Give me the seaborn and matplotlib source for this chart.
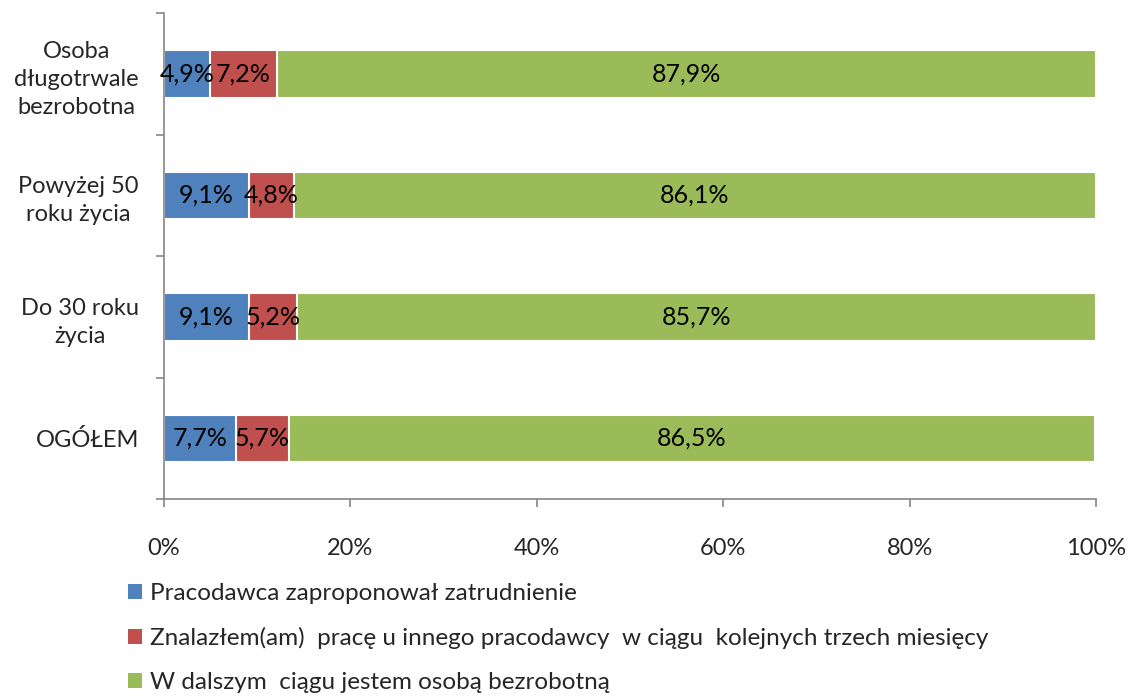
import matplotlib
matplotlib.use("Agg")
import matplotlib.pyplot as plt
from matplotlib.patches import Patch
import seaborn as sns
import pandas as pd

categories = ["Osoba\ndługotrwale\nbezrobotna", "Powyżej 50\nroku życia", "Do 30 roku\nżycia", "OGÓŁEM"]
pracodawca = [4.9, 9.1, 9.1, 7.7]
inny = [7.2, 4.8, 5.2, 5.7]
bezrobotny = [87.9, 86.1, 85.7, 86.5]
series_names = ["Pracodawca zaproponował zatrudnienie",
                "Znalazłem(am)  pracę u innego pracodawcy  w ciągu  kolejnych trzech miesięcy",
                "W dalszym  ciągu jestem osobą bezrobotną"]
colors = ["#4F81BD", "#C0504D", "#9BBB59"]
xticks = [0, 20, 40, 60, 80, 100]

sns.set_style("white")
plt.rcParams["font.family"] = ["Lato", "DejaVu Sans"]
plt.rcParams["font.size"] = 16

df = pd.DataFrame({"cat": categories, "a": pracodawca, "b": inny, "c": bezrobotny})
df["ab"] = df["a"] + df["b"]
df["abc"] = df["ab"] + df["c"]

fig = plt.figure(figsize=(11.31, 6.99), dpi=100)
ax = fig.add_axes([0.145, 0.286, 0.824, 0.695])

# stacked bars drawn as cumulative totals, widest first
for col, color in zip(["abc", "ab", "a"], colors[::-1]):
    sns.barplot(data=df, x=col, y="cat", order=categories, color=color, ax=ax,
                width=0.39, edgecolor="white", linewidth=1.5, orient="h", saturation=1)

for i in range(len(categories)):
    starts = [0, pracodawca[i], pracodawca[i] + inny[i]]
    vals = [pracodawca[i], inny[i], bezrobotny[i]]
    for s, v in zip(starts, vals):
        ax.text(s + v / 2, i, f"{v:.1f}%".replace(".", ","), ha="center", va="center",
                fontsize=18, color="black")

ax.set_xlim(0, 100)
ax.set_ylim(3.5, -0.5)
ax.set_xticks(xticks)
ax.set_xticklabels([f"{t}%" for t in xticks], fontsize=17)
ax.set_xlabel("")
ax.set_ylabel("")
ax.set_yticks([-0.5, 0.5, 1.5, 2.5, 3.5], minor=True)
ax.tick_params(axis="y", which="major", left=False, length=0, pad=18, labelsize=17)
ax.tick_params(axis="y", which="minor", left=True, length=6, width=1.2,
               color="#868686", direction="out")
ax.tick_params(axis="x", bottom=True, length=6, width=1.2, color="#868686",
               direction="out", pad=22)
for lbl in ax.get_yticklabels():
    lbl.set_multialignment("center")
    lbl.set_linespacing(1.4)

for side in ["top", "right"]:
    ax.spines[side].set_visible(False)
for side in ["left", "bottom"]:
    ax.spines[side].set_color("#868686")
    ax.spines[side].set_linewidth(1.2)

handles = [Patch(facecolor=c, edgecolor="none") for c in colors]
fig.legend(handles, series_names, loc="upper left", bbox_to_anchor=(0.105, 0.18),
           frameon=False, handlelength=0.55, handleheight=0.55, handletextpad=0.35,
           labelspacing=0.95, fontsize=17.5, borderaxespad=0)

fig.savefig("out.png", dpi=100)
